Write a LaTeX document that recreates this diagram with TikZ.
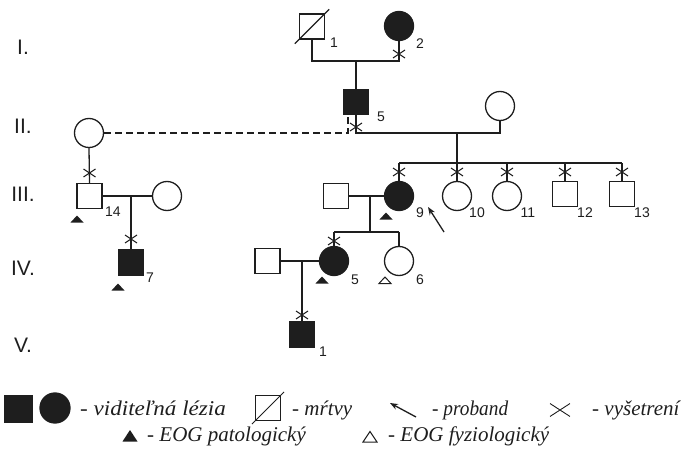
\documentclass[tikz,border=0pt]{standalone}
\usepackage{graphicx}
\usepackage{fontspec}
\setsansfont{Liberation Sans}
\newfontfamily\legfont{Liberation Serif}
\usetikzlibrary{arrows.meta,shapes.misc,calc}
\definecolor{ink}{HTML}{1E1E1E}
\begin{document}
\begin{tikzpicture}[x=1pt,y=-1pt,
  ln/.style={line width=1.3pt, draw=ink},
  sq/.style={draw=ink, line width=1.3pt, rectangle, minimum size=25pt, inner sep=0pt},
  sqf/.style={sq, fill=ink},
  ci/.style={draw=ink, line width=1.3pt, circle, minimum size=29pt, inner sep=0pt},
  cif/.style={ci, fill=ink},
  xm/.style={cross out, draw=ink, line width=1pt, minimum width=11pt, minimum height=7pt, inner sep=0pt},
  num/.style={font=\sffamily\fontsize{14}{14}\selectfont, text=ink, inner sep=0pt},
  gen/.style={font=\sffamily\fontsize{21}{21}\selectfont, text=ink, inner sep=0pt},
  leg/.style={font=\legfont\itshape\fontsize{21}{21}\selectfont, text=ink, anchor=base west, inner sep=0pt},
  tri/.pic={\fill[ink] (-6.5,3.5) -- (6.5,3.5) -- (0,-3.5) -- cycle;},
  trio/.pic={\draw[ink, line width=1pt] (-6,3.5) -- (6,3.5) -- (0,-3) -- cycle;},
  ltri/.pic={\fill[ink] (-7.5,5.5) -- (7.5,5.5) -- (0,-6) -- cycle;},
  ltrio/.pic={\draw[ink, line width=1pt] (-7,5) -- (7,5) -- (0,-5.5) -- cycle;},
]
\useasboundingbox (0,0) rectangle (681,452);

% generation labels
\node[gen] (g1) at (23,47) {I.};
\node[gen] (g2) at (23,126) {II.};
\node[gen] (g3) at (23,194) {III.};
\node[gen] (g4) at (23,268) {IV.};
\node[gen] (g5) at (23,345) {V.};

% generation I
\node[sq] (I1) at (312,26.5) {};
\draw[ln] ($(I1.south west)+(-4,4)$) -- ($(I1.north east)+(4,-4)$);
\node[num] (lI1) at (334,43) {1};
\node[cif] (I2) at (399,26) {};
\node[num] (lI2) at (420,44) {2};
\coordinate (m1) at (356,61);
\draw[ln] (I1.south) |- (I2.south |- m1) -- (I2.south);
\node[xm] (xI2) at (399,54) {};

% generation II
\node[sqf] (II5) at (356,102) {};
\node[num] (lII5) at (381,117) {5};
\draw[ln] (m1) -- (II5.north);
\node[ci] (IIa) at (89,133) {};
\node[ci] (IIb) at (500,106) {};
\coordinate (dsh) at (348,133);
\draw[ln, dash pattern=on 7pt off 4pt] (IIa.east) -- (dsh) -- (dsh |- II5.south);
\coordinate (m2) at (356,133);
\draw[ln] (II5.south) -- (m2) -| (IIb.south);
\node[xm] (xII5) at (356,127) {};

% generation III (children of II.5)
\coordinate (d2) at (457,133);
\coordinate (s3) at (457,163);
\draw[ln] (d2) -- (s3);
\node[cif] (III9) at (399,196) {};
\node[ci] (III10) at (457,196) {};
\node[ci] (III11) at (507,196) {};
\node[sq] (III12) at (565,194) {};
\node[sq] (III13) at (622,194) {};
\draw[ln] (III9.north |- s3) -- (III13.north |- s3);
\foreach \n in {III9,III10,III11,III12,III13}{
  \draw[ln] (\n.north |- s3) -- (\n.north);
  \node[xm] (x\n) at (\n.north |- 0,172) {};
}
\node[num] (lIII9) at (420,213) {9};
\node[num] (lIII10) at (477,213) {10};
\node[num] (lIII11) at (528,213) {11};
\node[num] (lIII12) at (585,213) {12};
\node[num] (lIII13) at (642,213) {13};
\pic at (386,216) {tri};
\coordinate (pa) at (444,232);
\coordinate (pb) at (428,207);
\draw[ln, -{Stealth[length=8pt,width=6pt]}] (pa) -- (pb);

% III.9 family
\node[sq] (III9s) at (336,196) {};
\draw[ln] (III9s.east) -- (III9.west);
\coordinate (m3) at (370,196);
\coordinate (s4) at (370,232);
\draw[ln] (m3) -- (s4);
\node[cif] (IV5) at (334,261) {};
\node[ci] (IV6) at (399,261) {};
\draw[ln] (IV5.north |- s4) -- (IV6.north |- s4);
\draw[ln] (IV5.north |- s4) -- (IV5.north);
\draw[ln] (IV6.north |- s4) -- (IV6.north);
\node[xm] (xIV5) at (334,241) {};
\node[num] (lIV5) at (355,280) {5};
\node[num] (lIV6) at (420,280) {6};
\pic at (322,280) {tri};
\pic at (385,280) {trio};

% IV.5 family
\node[sq] (IV5s) at (267.5,261) {};
\draw[ln] (IV5s.east) -- (IV5.west);
\coordinate (m4) at (302,261);
\node[sqf] (V1) at (302,334.5) {};
\draw[ln] (m4) -- (V1.north);
\node[xm] (xV1) at (302,315) {};
\node[num] (lV1) at (323,352) {1};

% left branch
\node[sq] (III14) at (89.5,196) {};
\draw[ln] (IIa.south) -- (III14.north);
\node[xm] (xIII14) at (89.5,173) {};
\node[num] (lIII14) at (113,212) {14};
\pic at (77,219) {tri};
\node[ci] (III14s) at (167,196) {};
\draw[ln] (III14.east) -- (III14s.west);
\coordinate (m5) at (131,196);
\node[sqf] (IV7) at (131,262.5) {};
\draw[ln] (m5) -- (IV7.north);
\node[xm] (xIV7) at (131,239) {};
\node[num] (lIV7) at (150,278) {7};
\pic at (118,287) {tri};

% legend
\node[sqf, minimum size=27pt] (Lsq) at (18.5,409) {};
\node[cif, minimum size=30pt] (Lci) at (55,408) {};
\node[leg] (Lt1) at (80,415) {\scalebox{1.1}[1]{- viditeľná lézia}};
\node[draw=ink, line width=1pt, rectangle, minimum size=25pt, inner sep=0pt] (Ld) at (268,408) {};
\draw[ink, line width=1pt] ($(Ld.south west)+(-3,3)$) -- ($(Ld.north east)+(3,-3)$);
\node[leg] (Lt2) at (292,415) {- mŕtvy};
\coordinate (La) at (416,417);
\coordinate (Lb) at (390,403);
\draw[ink, line width=1.3pt, -{Stealth[length=8pt,width=6pt]}] (La) -- (Lb);
\node[leg] (Lt3) at (432,415) {\scalebox{0.92}[1]{- proband}};
\node[cross out, draw=ink, line width=0.9pt, minimum width=19pt, minimum height=12pt, inner sep=0pt] (Lx) at (560,410) {};
\node[leg] (Lt4) at (592,415) {- vyšetrení};
\pic at (130,436) {ltri};
\node[leg] (Lt5) at (147,441) {- EOG patologický};
\pic at (370,437) {ltrio};
\node[leg] (Lt6) at (388,441) {- EOG fyziologický};
\end{tikzpicture}
\end{document}
